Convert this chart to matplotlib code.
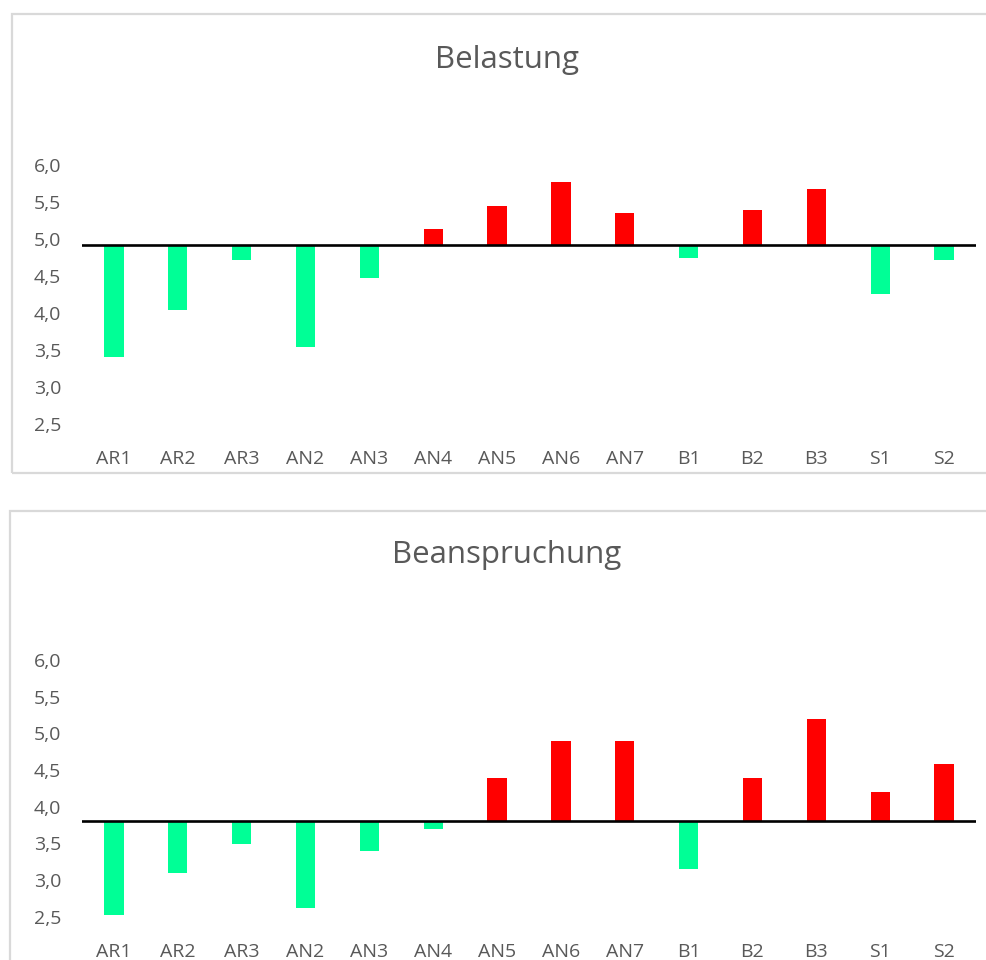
import matplotlib
matplotlib.use("Agg")
import matplotlib.pyplot as plt
from matplotlib.patches import Rectangle

categories = ["AR1", "AR2", "AR3", "AN2", "AN3", "AN4", "AN5", "AN6", "AN7", "B1", "B2", "B3", "S1", "S2"]
belastung = [3.40, 4.04, 4.71, 3.54, 4.47, 5.14, 5.44, 5.77, 5.35, 4.75, 5.39, 5.68, 4.26, 4.71]
belastung_ref = 4.92
beanspruchung = [2.52, 3.10, 3.49, 2.61, 3.39, 3.69, 4.39, 4.90, 4.90, 3.15, 4.39, 5.19, 4.20, 4.58]
beanspruchung_ref = 3.80
yticks = [2.5, 3.0, 3.5, 4.0, 4.5, 5.0, 5.5, 6.0]
ytick_labels = ["2,5", "3,0", "3,5", "4,0", "4,5", "5,0", "5,5", "6,0"]

plt.rcParams['font.family'] = ['Open Sans', 'DejaVu Sans']
W, H = 987, 960
fig = plt.figure(figsize=(W / 100, H / 100), dpi=100)

GREEN = "#00FF96"
RED = "#FF0000"
TXT = "#595959"
BORDER = "#D9D9D9"

def fx(px):
    return px / W

def fy(py):
    return 1 - py / H

# panel borders
fig.patches.append(Rectangle((fx(12), fy(473)), fx(1000 - 12), (473 - 14) / H,
                             transform=fig.transFigure, fill=False, ec=BORDER, lw=1.6))
fig.patches.append(Rectangle((fx(10), fy(1000)), fx(1000 - 10), (1000 - 511) / H,
                             transform=fig.transFigure, fill=False, ec=BORDER, lw=1.6))

def panel(top_px, bot_px, values, ref, title, title_y):
    ax = fig.add_axes([fx(82), fy(bot_px), fx(976 - 82), (bot_px - top_px) / H])
    x = list(range(len(categories)))
    heights = [v - ref for v in values]
    colors = [RED if v >= ref else GREEN for v in values]
    ax.bar(x, heights, bottom=ref, width=0.30, color=colors, zorder=2)
    ax.axhline(ref, color="black", lw=1.9, zorder=3)
    ax.set_xlim(-0.5, len(categories) - 0.5)
    ax.set_ylim(2.5, 6.0)
    ax.set_yticks(yticks)
    ax.set_yticklabels(ytick_labels)
    ax.set_xticks(x)
    ax.set_xticklabels(categories)
    ax.tick_params(axis="both", length=0, labelsize=14, colors=TXT)
    ax.tick_params(axis="y", pad=15)
    ax.tick_params(axis="x", pad=19)
    for s in ax.spines.values():
        s.set_visible(False)
    ax.patch.set_alpha(0)
    fig.text(fx(507), fy(title_y), title, ha="center", va="center", fontsize=22.5, color=TXT)
    return ax

panel(165, 424, belastung, belastung_ref, "Belastung", 60)
panel(660, 916.5, beanspruchung, beanspruchung_ref, "Beanspruchung", 555)

fig.savefig("out.png", dpi=100, facecolor="white")
